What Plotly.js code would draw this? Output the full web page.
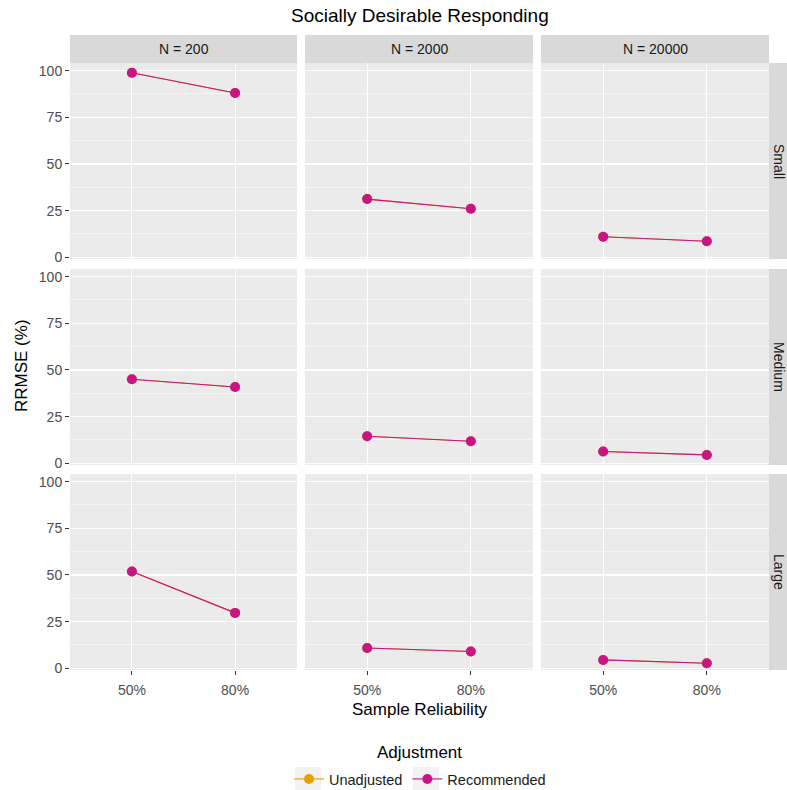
<!DOCTYPE html>
<html>
<head>
<meta charset="utf-8">
<script src="https://cdn.plot.ly/plotly-3.0.1.min.js"></script>
<style>html,body{margin:0;padding:0;background:#fff;}#chart{width:787px;height:790px;}</style>
</head>
<body>
<div id="chart"></div>
<script>
// ---- data ----
const reliability = ['50%', '80%'];
const sampleSizes = ['N = 200', 'N = 2000', 'N = 20000'];
const effectSizes = ['Small', 'Medium', 'Large'];
// Recommended RRMSE (%) per effect size, each row = [N=200, N=2000, N=20000], each pair = [50%, 80%]
const recommendedSmall  = [[98.9, 88.0], [31.2, 26.0], [11.0, 8.6]];
const recommendedMedium = [[45.0, 40.9], [14.5, 11.8], [6.3, 4.5]];
const recommendedLarge  = [[51.9, 29.7], [10.9, 9.0], [4.5, 2.7]];
// Unadjusted series is fully hidden beneath the Recommended series in the picture
const unadjustedSmall  = [[98.9, 88.0], [31.2, 26.0], [11.0, 8.6]];
const unadjustedMedium = [[45.0, 40.9], [14.5, 11.8], [6.3, 4.5]];
const unadjustedLarge  = [[51.9, 29.7], [10.9, 9.0], [4.5, 2.7]];
const seriesNames = ['Unadjusted', 'Recommended'];

// ---- layout helpers ----
const W = 787, H = 790;
const FONT = 'Liberation Sans, Arial, sans-serif';
const colors = {Unadjusted: '#E69F00', Recommended: '#C71585'};
const colPx = [[70, 297], [305, 533], [541, 769]];
const rowPx = [[63, 259], [269, 465], [474, 670]];
const fx = p => p / W;
const fy = p => 1 - p / H;

const recRows = [recommendedSmall, recommendedMedium, recommendedLarge];
const unaRows = [unadjustedSmall, unadjustedMedium, unadjustedLarge];

const traces = [];
const layout = {
  width: W, height: H,
  margin: {l: 0, r: 0, t: 0, b: 0, autoexpand: false},
  paper_bgcolor: '#FFFFFF',
  plot_bgcolor: '#EBEBEB',
  font: {family: FONT, color: '#4D4D4D'},
  showlegend: true,
  legend: {
    orientation: 'h', x: fx(420), xanchor: 'center', y: fy(779), yanchor: 'middle',
    font: {family: FONT, size: 14.5, color: '#1A1A1A'}, bgcolor: 'rgba(0,0,0,0)',
    itemwidth: 30, tracegroupgap: 0
  },
  shapes: [], annotations: []
};

for (let r = 0; r < 3; r++) {
  for (let c = 0; c < 3; c++) {
    const i = r * 3 + c + 1;
    const xa = i === 1 ? 'x' : 'x' + i;
    const ya = i === 1 ? 'y' : 'y' + i;
    const series = [unaRows[r][c], recRows[r][c]];
    series.forEach((vals, s) => {
      const name = seriesNames[s];
      traces.push({
        type: 'scatter', mode: 'lines+markers',
        x: reliability, y: vals, xaxis: xa, yaxis: ya,
        name: name, legendgroup: name, showlegend: (i === 1),
        line: {color: colors[name], width: 1.1},
        marker: {color: colors[name], size: 10},
        hoverinfo: 'skip'
      });
    });
    const bottom = (r === 2), left = (c === 0);
    layout['xaxis' + (i === 1 ? '' : i)] = {
      domain: [fx(colPx[c][0]), fx(colPx[c][1])], anchor: ya,
      type: 'category', categoryorder: 'array', categoryarray: reliability,
      range: [-0.6, 1.6], showgrid: true, gridcolor: '#FFFFFF', gridwidth: 1.1,
      zeroline: false, showline: false,
      showticklabels: bottom, ticks: bottom ? 'outside' : '', ticklen: 4, tickcolor: '#333333', tickwidth: 1,
      ticklabelstandoff: 3,
      tickfont: {family: FONT, size: 14, color: '#4D4D4D'}, fixedrange: true
    };
    layout['yaxis' + (i === 1 ? '' : i)] = {
      domain: [fy(rowPx[r][1]), fy(rowPx[r][0])], anchor: xa,
      range: [-0.9, 104.1], tick0: 0, dtick: 25,
      showgrid: true, gridcolor: '#FFFFFF', gridwidth: 1.1,
      minor: {tick0: 0, dtick: 12.5, showgrid: true, gridcolor: '#FFFFFF', gridwidth: 0.5},
      zeroline: false, showline: false,
      showticklabels: left, ticks: left ? 'outside' : '', ticklen: 4, tickcolor: '#333333', tickwidth: 1,
      tickfont: {family: FONT, size: 14, color: '#4D4D4D'}, fixedrange: true
    };
  }
}

// strips (top)
sampleSizes.forEach((lab, c) => {
  layout.shapes.push({type: 'rect', xref: 'paper', yref: 'paper', layer: 'below',
    x0: fx(colPx[c][0]), x1: fx(colPx[c][1]), y0: fy(63), y1: fy(35),
    fillcolor: '#D9D9D9', line: {width: 0}});
  layout.annotations.push({xref: 'paper', yref: 'paper', x: fx((colPx[c][0] + colPx[c][1]) / 2), y: fy(49),
    xanchor: 'center', yanchor: 'middle', showarrow: false, text: lab,
    font: {family: FONT, size: 14, color: '#1A1A1A'}});
});
// strips (right)
effectSizes.forEach((lab, r) => {
  layout.shapes.push({type: 'rect', xref: 'paper', yref: 'paper', layer: 'below',
    x0: fx(769), x1: fx(787), y0: fy(rowPx[r][1]), y1: fy(rowPx[r][0]),
    fillcolor: '#D9D9D9', line: {width: 0}});
  layout.annotations.push({xref: 'paper', yref: 'paper', x: fx(779), y: fy((rowPx[r][0] + rowPx[r][1]) / 2),
    xanchor: 'center', yanchor: 'middle', showarrow: false, text: lab, textangle: 90,
    font: {family: FONT, size: 14, color: '#1A1A1A'}});
});
// legend key backgrounds (ggplot-style grey key boxes)
[308, 426].forEach(cx => {
  layout.shapes.push({type: 'rect', xref: 'paper', yref: 'paper', layer: 'below',
    x0: fx(cx - 13), x1: fx(cx + 13), y0: fy(791), y1: fy(767),
    fillcolor: '#F2F2F2', line: {width: 0}});
});
// titles
layout.annotations.push({xref: 'paper', yref: 'paper', x: fx(420), y: fy(16), xanchor: 'center', yanchor: 'middle',
  showarrow: false, text: 'Socially Desirable Responding', font: {family: FONT, size: 19, color: '#000000'}});
layout.annotations.push({xref: 'paper', yref: 'paper', x: fx(420), y: fy(709), xanchor: 'center', yanchor: 'middle',
  showarrow: false, text: 'Sample Reliability', font: {family: FONT, size: 17, color: '#000000'}});
layout.annotations.push({xref: 'paper', yref: 'paper', x: fx(21), y: fy(366), xanchor: 'center', yanchor: 'middle',
  showarrow: false, text: 'RRMSE (%)', textangle: -90, font: {family: FONT, size: 17, color: '#000000'}});
layout.annotations.push({xref: 'paper', yref: 'paper', x: fx(419), y: fy(752), xanchor: 'center', yanchor: 'middle',
  showarrow: false, text: 'Adjustment', font: {family: FONT, size: 17, color: '#000000'}});

Plotly.newPlot('chart', traces, layout, {staticPlot: true, displayModeBar: false});
</script>
</body>
</html>
